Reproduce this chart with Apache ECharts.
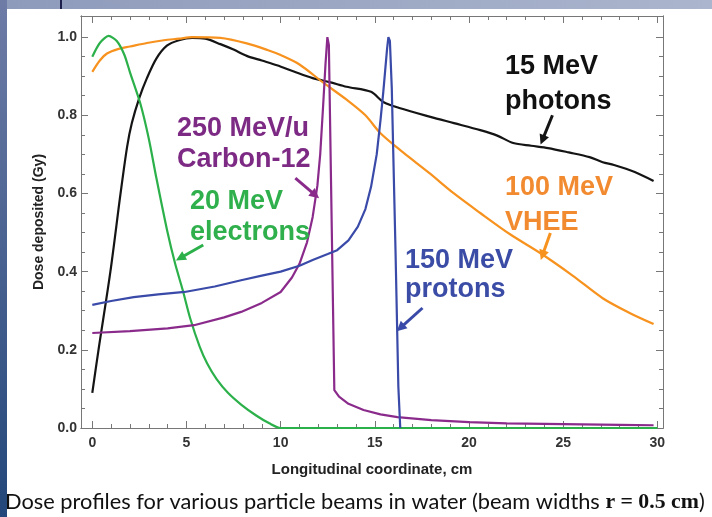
<!DOCTYPE html>
<html>
<head>
<meta charset="utf-8">
<script src="https://cdn.jsdelivr.net/npm/echarts@6/dist/echarts.min.js"></script>
<style>
  html, body { margin: 0; padding: 0; background: #fff; }
  #chart { width: 712px; height: 517px; }
</style>
</head>
<body>
<div id="chart"></div>
<script>
// tick values
const xMajor = [0, 5, 10, 15, 20, 25, 30];
const xMinor = [0, 1, 2, 3, 4, 5, 6, 7, 8, 9, 10, 11, 12, 13, 14, 15, 16, 17, 18, 19, 20, 21, 22, 23, 24, 25, 26, 27, 28, 29, 30];
const yMajor = [0, 0.2, 0.4, 0.6, 0.8, 1.0];
const yMinor = [0, 0.05, 0.1, 0.15, 0.2, 0.25, 0.3, 0.35, 0.4, 0.45, 0.5, 0.55, 0.6, 0.65, 0.7, 0.75, 0.8, 0.85, 0.9, 0.95, 1.0];

// 15 MeV photons
const photonX = [0, 0.33, 0.96, 1.5, 1.85, 2.1, 2.5, 2.9, 3.4, 3.96, 4.6, 5.3, 6, 6.8, 7.5, 8.2, 9, 9.8, 10.7, 11.7, 12.6, 13.5, 14.8, 15.45, 16.35, 17.95, 19.2, 20.6, 21.5, 22.35, 23.3, 24.2, 25.3, 26.4, 27.1, 27.7, 28.8, 29.8];
const photonY = [0.09, 0.2, 0.4, 0.6, 0.72, 0.78, 0.845, 0.895, 0.945, 0.978, 0.992, 0.998, 0.996, 0.982, 0.968, 0.952, 0.94, 0.928, 0.912, 0.895, 0.885, 0.873, 0.86, 0.834, 0.818, 0.796, 0.78, 0.762, 0.748, 0.729, 0.722, 0.716, 0.705, 0.693, 0.68, 0.673, 0.655, 0.632];

// 100 MeV VHEE
const vheeX = [0, 0.4, 0.78, 1.4, 2, 2.9, 3.8, 4.6, 5.3, 6.8, 8.2, 9.3, 10, 11, 12.3, 13.5, 14.5, 15.3, 16.5, 17.9, 19.2, 20.6, 22.2, 23.8, 25.5, 27.1, 28.5, 29.8];
const vheeY = [0.911, 0.94, 0.958, 0.97, 0.976, 0.985, 0.992, 0.996, 1.0, 0.998, 0.984, 0.967, 0.954, 0.93, 0.882, 0.84, 0.8, 0.754, 0.705, 0.652, 0.6, 0.55, 0.495, 0.447, 0.39, 0.332, 0.295, 0.266];

// 20 MeV electrons
const electronX = [0, 0.4, 0.87, 1.3, 1.7, 2.0, 2.55, 3.0, 3.4, 3.97, 4.4, 4.8, 5.2, 5.7, 6.1, 6.6, 7.2, 7.9, 8.7, 9.4, 10, 30];
const electronY = [0.95, 0.985, 1.003, 0.99, 0.955, 0.91, 0.83, 0.74, 0.64, 0.506, 0.42, 0.353, 0.28, 0.208, 0.165, 0.125, 0.09, 0.06, 0.032, 0.012, 0.0, 0.0];

// 250 MeV/u Carbon-12
const carbonX = [0, 2, 4, 5.4, 7, 7.9, 9, 10, 10.6, 11, 11.4, 11.7, 11.95, 12.1, 12.25, 12.38, 12.48, 12.56, 12.85, 13.1, 13.6, 14.4, 15.3, 16.2, 18, 20, 22, 25, 28, 29.8];
const carbonY = [0.243, 0.248, 0.255, 0.263, 0.283, 0.297, 0.32, 0.348, 0.385, 0.42, 0.475, 0.54, 0.62, 0.70, 0.82, 0.93, 1.0, 0.98, 0.097, 0.08, 0.062, 0.046, 0.035, 0.028, 0.02, 0.015, 0.012, 0.01, 0.008, 0.007];

// 150 MeV protons
const protonX = [0, 1, 2.2, 3.5, 4.9, 6.5, 7.9, 9, 10, 11, 11.7, 12.5, 13, 13.6, 14.1, 14.5, 14.8, 15.1, 15.3, 15.45, 15.55, 15.65, 15.72, 15.8, 15.9, 16.1, 16.25, 16.35];
const protonY = [0.315, 0.325, 0.335, 0.342, 0.348, 0.362, 0.378, 0.39, 0.40, 0.415, 0.43, 0.445, 0.455, 0.48, 0.515, 0.56, 0.617, 0.7, 0.787, 0.86, 0.915, 0.97, 1.0, 0.99, 0.87, 0.45, 0.105, 0.0];

// annotation arrows: [x1, y1, x2, y2] in data units
const photonArrow = [24.43, 0.80, 23.9, 0.737];
const vheeArrow = [24.32, 0.499, 23.9, 0.442];
const carbonArrow = [10.78, 0.639, 11.84, 0.596];
const electronArrow = [5.89, 0.468, 4.67, 0.435];
const protonArrow = [17.53, 0.307, 16.36, 0.256];

const chart = echarts.init(document.getElementById('chart'));

const frameColor = '#777';
const labelFont = { fontFamily: 'Liberation Sans, Arial', fontWeight: 'bold', fontSize: 14, color: '#333' };

function zip(xs, ys) {
  return xs.map((x, i) => [x, ys[i]]);
}

function xAxisOf(position, ticks, len, withLabel) {
  return {
    type: 'value', position: position, min: -0.6, max: 30.3,
    axisLine: { show: true, onZero: false, lineStyle: { color: frameColor, width: 1 } },
    axisTick: { show: true, inside: true, length: len, customValues: ticks, lineStyle: { color: frameColor } },
    axisLabel: withLabel ? Object.assign({ customValues: xMajor, margin: 8 }, labelFont) : { show: false },
    splitLine: { show: false },
    name: withLabel ? 'Longitudinal coordinate, cm' : '',
    nameLocation: 'middle', nameGap: 34,
    nameTextStyle: { fontFamily: 'Liberation Sans, Arial', fontWeight: 'bold', fontSize: 15, color: '#222' }
  };
}

function yAxisOf(position, ticks, len, withLabel) {
  return {
    type: 'value', position: position, min: 0, max: 1.054,
    axisLine: { show: true, onZero: false, lineStyle: { color: frameColor, width: 1 } },
    axisTick: { show: true, inside: true, length: len, customValues: ticks, lineStyle: { color: frameColor } },
    axisLabel: withLabel ? Object.assign({ customValues: yMajor, margin: 4, formatter: v => v.toFixed(1) }, labelFont) : { show: false },
    splitLine: { show: false },
    name: withLabel ? 'Dose deposited (Gy)' : '',
    nameLocation: 'middle', nameGap: 35, nameRotate: 90,
    nameTextStyle: { fontFamily: 'Liberation Sans, Arial', fontWeight: 'bold', fontSize: 14, color: '#222' }
  };
}

function curve(name, xs, ys, color, arrow, smooth) {
  return {
    name: name, type: 'line', data: zip(xs, ys),
    xAxisIndex: 0, yAxisIndex: 0,
    showSymbol: false, symbol: 'none', smooth: smooth,
    lineStyle: { color: color, width: 2.2 },
    itemStyle: { color: color },
    silent: true,
    markLine: {
      silent: true, symbol: ['none', 'triangle'], symbolSize: 10,
      label: { show: false },
      lineStyle: { color: color, width: 3, type: 'solid' },
      data: [[{ coord: [arrow[0], arrow[1]] }, { coord: [arrow[2], arrow[3]] }]]
    }
  };
}

const textFont = 'bold 27px "Liberation Sans", Arial';
function note(text, x, y, color) {
  return { type: 'text', x: x, y: y, z: 10, style: { text: text, font: textFont, fill: color, verticalAlign: 'middle' } };
}

chart.setOption({
  animation: false,
  backgroundColor: '#fff',
  grid: { left: 81, right: 49, top: 16, bottom: 89, containLabel: false },
  xAxis: [
    xAxisOf('bottom', xMajor, 7, true),
    xAxisOf('bottom', xMinor, 4, false),
    xAxisOf('top', xMajor, 7, false),
    xAxisOf('top', xMinor, 4, false)
  ],
  yAxis: [
    yAxisOf('left', yMajor, 7, true),
    yAxisOf('left', yMinor, 4, false),
    yAxisOf('right', yMajor, 7, false),
    yAxisOf('right', yMinor, 4, false)
  ],
  series: [
    curve('15 MeV photons', photonX, photonY, '#141414', photonArrow, 0.3),
    curve('100 MeV VHEE', vheeX, vheeY, '#f7921e', vheeArrow, 0.3),
    curve('20 MeV electrons', electronX, electronY, '#2bb04a', electronArrow, 0.25),
    curve('250 MeV/u Carbon-12', carbonX, carbonY, '#8a2b8c', carbonArrow, false),
    curve('150 MeV protons', protonX, protonY, '#3a4aa8', protonArrow, false)
  ],
  graphic: [
    { type: 'rect', shape: { x: 0, y: 0, width: 7, height: 517 }, style: {
      fill: new echarts.graphic.LinearGradient(0, 0, 0, 1, [{ offset: 0, color: '#6e7ca6' }, { offset: 1, color: '#23477a' }]) } },
    { type: 'rect', shape: { x: 7, y: 0, width: 705, height: 9 }, style: {
      fill: new echarts.graphic.LinearGradient(0, 0, 1, 0, [{ offset: 0, color: '#8f9bbb' }, { offset: 1, color: '#abb5cd' }]) } },
    { type: 'rect', shape: { x: 60, y: 0, width: 2, height: 9 }, style: { fill: '#1d1f4c' } },
    note('15 MeV', 505, 67, '#111'),
    note('photons', 505, 102, '#111'),
    note('100 MeV', 505, 188, '#f28a30'),
    note('VHEE', 505, 223, '#f28a30'),
    note('250 MeV/u', 177, 129, '#7d2a85'),
    note('Carbon-12', 177, 160, '#7d2a85'),
    note('20 MeV', 190, 202, '#2fb04c'),
    note('electrons', 190, 233, '#2fb04c'),
    note('150 MeV', 405, 261, '#3a4ca5'),
    note('protons', 405, 290, '#3a4ca5'),
    { type: 'text', x: 5, y: 502, style: {
      text: '{a|Dose profiles for various particle beams in water (beam widths }{b|r = 0.5 cm}{a|)}',
      verticalAlign: 'middle',
      rich: {
        a: { font: '21.8px Lato, "Open Sans", sans-serif', fill: '#111' },
        b: { font: 'bold 21.8px "Liberation Serif", serif', fill: '#111' }
      }
    } }
  ]
});
</script>
</body>
</html>
